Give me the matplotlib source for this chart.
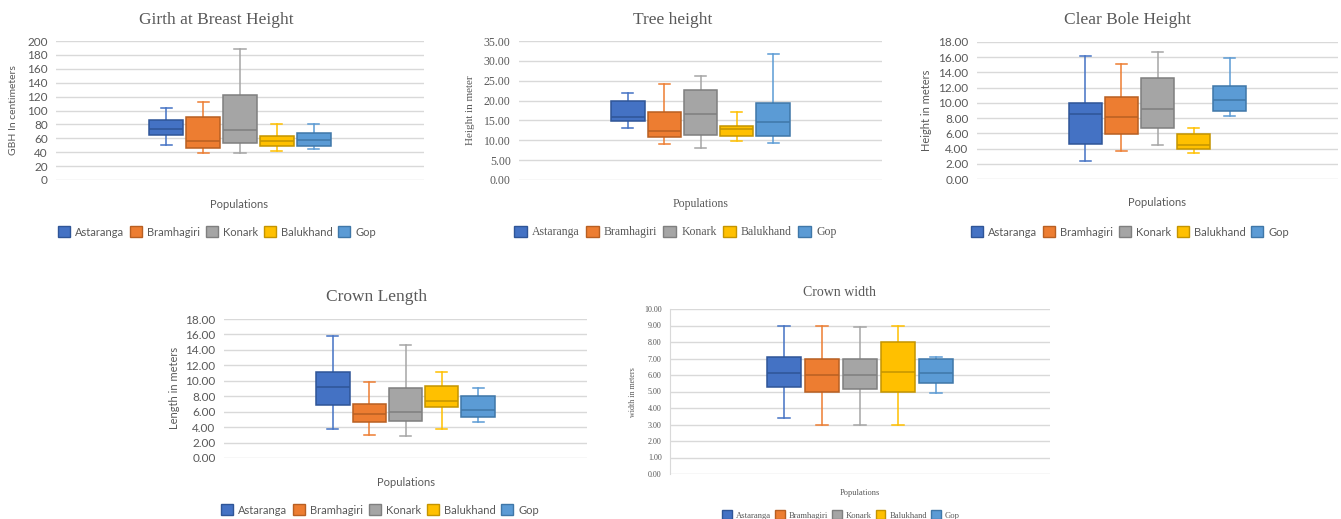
import numpy as np
import matplotlib.pyplot as plt
from matplotlib.patches import Patch

# populations and colours
populations = ["Astaranga", "Bramhagiri", "Konark", "Balukhand", "Gop"]
fills = ["#4472C4", "#ED7D31", "#A5A5A5", "#FFC000", "#5B9BD5"]
edges = ["#2F5597", "#B85F22", "#7F7F7F", "#C49400", "#3F77A8"]

# Girth at breast height (cm)
gbh_lo = [50, 38.5, 38.5, 42, 44]
gbh_q1 = [64.5, 46.5, 53.5, 49, 49]
gbh_med = [74, 56, 72, 56.5, 57]
gbh_q3 = [87, 91, 123, 63, 67]
gbh_hi = [103, 112.5, 188, 80, 80.5]

# Tree height (m)
th_lo = [13.2, 9.0, 8.1, 9.8, 9.2]
th_q1 = [14.9, 10.9, 11.4, 11.2, 11.1]
th_med = [15.9, 12.3, 16.7, 12.9, 14.5]
th_q3 = [19.9, 17.0, 22.6, 13.7, 19.5]
th_hi = [21.9, 24.2, 26.1, 17.0, 31.8]

# Clear bole height (m)
cb_lo = [2.4, 3.65, 4.5, 3.4, 8.3]
cb_q1 = [4.55, 5.9, 6.75, 4.0, 8.9]
cb_med = [8.6, 8.1, 9.2, 4.5, 10.4]
cb_q3 = [10.0, 10.75, 13.3, 5.85, 12.2]
cb_hi = [16.1, 15.1, 16.7, 6.7, 15.9]

# Crown length (m)
cl_lo = [3.8, 3.0, 2.8, 3.8, 4.7]
cl_q1 = [6.85, 4.6, 4.8, 6.6, 5.3]
cl_med = [9.15, 5.7, 6.0, 7.4, 6.25]
cl_q3 = [11.2, 7.0, 9.05, 9.3, 8.0]
cl_hi = [15.8, 9.8, 14.65, 11.2, 9.1]

# Crown width (m)
cw_lo = [3.4, 3.0, 3.0, 3.0, 4.9]
cw_q1 = [5.3, 5.0, 5.15, 5.0, 5.5]
cw_med = [6.1, 6.0, 6.0, 6.2, 6.1]
cw_q3 = [7.1, 7.0, 7.0, 8.0, 7.0]
cw_hi = [9.0, 9.0, 8.9, 9.0, 7.1]

W, H = 1341, 519
fig = plt.figure(figsize=(W / 100, H / 100), dpi=100)

TXT = "#595959"
GRID = "#D9D9D9"
SANS = ["Lato", "DejaVu Sans"]
SERIF = ["Liberation Serif", "DejaVu Serif"]


def px(x, y):
    return x / W, 1 - y / H


def boxpanel(rect, lo, q1, med, q3, hi, ymax, ystep, fmt, tickfont, ticksize,
             title, title_xy, title_size, ylabel, ylabel_xy, ylabel_font, ylabel_size,
             xlabel_xy, xlabel_font, xlabel_size, legend_xy, legend_font, legend_size,
             leftline=False):
    left, top, right, bottom = rect
    x0, y0 = px(left, bottom)
    x1, y1 = px(right, top)
    ax = fig.add_axes([x0, y0, x1 - x0, y1 - y0])
    stats = []
    for i in range(len(populations)):
        stats.append(dict(whislo=lo[i], q1=q1[i], med=med[i], q3=q3[i], whishi=hi[i], fliers=[]))
    pos = [0.3, 0.4, 0.5, 0.6, 0.7]
    bp = ax.bxp(stats, positions=pos, widths=0.092, capwidths=0.03, patch_artist=True,
                showfliers=False)
    for i in range(len(populations)):
        bp["boxes"][i].set(facecolor=fills[i], edgecolor=edges[i], linewidth=1.1, zorder=3)
        bp["medians"][i].set(color=edges[i], linewidth=1.1, zorder=4)
        for j in (2 * i, 2 * i + 1):
            bp["whiskers"][j].set(color=fills[i], linewidth=1.1, zorder=2)
            bp["caps"][j].set(color=fills[i], linewidth=1.1, zorder=2)
    ax.set_xlim(0, 1)
    ax.set_ylim(0, ymax)
    ax.set_yticks(np.arange(0, ymax + ystep / 2, ystep))
    ax.set_yticklabels([fmt.format(v) for v in np.arange(0, ymax + ystep / 2, ystep)],
                       family=tickfont, fontsize=ticksize, color=TXT)
    ax.tick_params(axis="y", length=0, pad=6)
    ax.set_xticks([])
    ax.grid(axis="y", color=GRID, linewidth=1)
    ax.set_axisbelow(True)
    for s in ax.spines.values():
        s.set_visible(False)
    if leftline:
        ax.spines["left"].set_visible(True)
        ax.spines["left"].set_color(GRID)
    tx, ty = px(*title_xy)
    fig.text(tx, ty, title, family=SERIF, fontsize=title_size, color=TXT, ha="center", va="center")
    lx, ly = px(*ylabel_xy)
    fig.text(lx, ly, ylabel, family=ylabel_font, fontsize=ylabel_size, color=TXT,
             rotation=90, ha="center", va="center")
    xx, xy = px(*xlabel_xy)
    fig.text(xx, xy, "Populations", family=xlabel_font, fontsize=xlabel_size, color=TXT,
             ha="center", va="center")
    handles = [Patch(facecolor=fills[i], edgecolor=edges[i], label=populations[i])
               for i in range(len(populations))]
    gx, gy = px(*legend_xy)
    fig.legend(handles=handles, loc="center", bbox_to_anchor=(gx, gy), ncol=5, frameon=False,
               handlelength=1.1, handleheight=1.1, handletextpad=0.45, columnspacing=0.5,
               prop={"family": legend_font, "size": legend_size}, labelcolor=TXT,
               borderaxespad=0, borderpad=0)
    return ax


boxpanel((56, 41, 424, 180), gbh_lo, gbh_q1, gbh_med, gbh_q3, gbh_hi, 200, 20, "{:.0f}",
         SANS, 8.5, "Girth at Breast Height", (216, 20), 12.5,
         "GBH In centimeters", (14, 110), SANS, 7.5, (239, 204), SANS, 8,
         (217, 232), SANS, 8)

boxpanel((519, 41, 882, 180), th_lo, th_q1, th_med, th_q3, th_hi, 35, 5, "{:.2f}",
         SERIF, 8.5, "Tree height", (673, 20), 12.5,
         "Height in meter", (471, 110), SERIF, 8, (701, 204), SERIF, 8.5,
         (675, 232), SERIF, 8.5)

boxpanel((977, 42, 1338, 179), cb_lo, cb_q1, cb_med, cb_q3, cb_hi, 18, 2, "{:.2f}",
         SANS, 8.5, "Clear Bole Height", (1128, 20), 12.5,
         "Height in meters", (927, 110), SANS, 8, (1157, 203), SANS, 8,
         (1130, 232), SANS, 8)

boxpanel((224, 319, 587, 458), cl_lo, cl_q1, cl_med, cl_q3, cl_hi, 18, 2, "{:.2f}",
         SANS, 8.5, "Crown Length", (377, 297), 12.5,
         "Length in meters", (175, 388), SANS, 8, (406, 482), SANS, 8,
         (380, 510), SANS, 8)

boxpanel((670, 309, 1050, 474), cw_lo, cw_q1, cw_med, cw_q3, cw_hi, 10, 1, "{:.2f}",
         SERIF, 5.8, "Crown width", (839, 293), 10,
         "width in meters", (633, 392), SERIF, 5.8, (860, 493), SERIF, 6,
         (841, 515), SERIF, 6.2, leftline=True)

fig.savefig("out.png", dpi=100, facecolor="white")
